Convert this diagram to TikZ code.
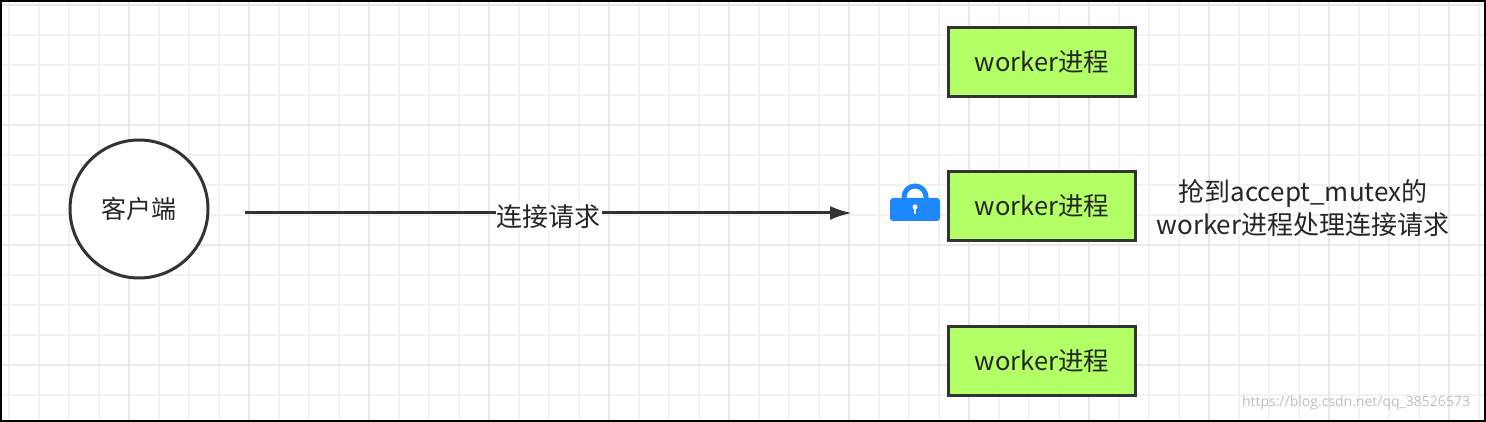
\documentclass[tikz,border=0pt]{standalone}
\usepackage{fontspec}
\usetikzlibrary{arrows.meta}
\setmainfont{Open Sans}
\newfontfamily\cjk{Noto Sans CJK SC}
\begin{document}
\begin{tikzpicture}[x=1pt,y=-1pt,
  wbox/.style={draw=black!80,line width=3pt,fill=wgreen,minimum width=187pt,minimum height=69pt,font=\fontsize{25.5}{28}\selectfont\cjk,text=black!85},
  lbl/.style={font=\fontsize{26}{30}\selectfont\cjk,text=black!85,align=center}]
\definecolor{wgreen}{HTML}{B3FF66}
\definecolor{lockblue}{HTML}{1E88FF}
\useasboundingbox (0,0) rectangle (1486,422);
\clip (0,0) rectangle (1486,422);
\fill[white] (0,0) rectangle (1486,422);
\foreach \i in {0,...,49} {\draw[line width=2pt,black!5] (9+30*\i,0) -- (9+30*\i,422);}
\foreach \j in {0,...,14} {\draw[line width=2pt,black!5] (0,5+30*\j) -- (1486,5+30*\j);}
\foreach \i in {0,...,11} {\draw[line width=2pt,black!9] (129+120*\i,0) -- (129+120*\i,422);}
\foreach \j in {0,...,3} {\draw[line width=2pt,black!9] (0,5+120*\j) -- (1486,5+120*\j);}
\draw[line width=2pt,black] (1,1) rectangle (1485,421);
\node[circle,draw=black!80,line width=3pt,fill=white,minimum size=138pt,font=\fontsize{25}{28}\selectfont\cjk,text=black!85] (c) at (139,209) {客户端};
\coordinate (s) at (245,213);
\coordinate (e) at (852,213);
\draw[line width=3pt,black!80,-{Latex[length=22pt,width=14pt]}] (s) -- (e) node[midway,fill=white,inner sep=1pt,lbl,yshift=-4pt] (t) {连接请求};
\node[wbox] (w1) at (1042,62) {worker进程};
\node[wbox] (w2) at (1042,206) {worker进程};
\node[wbox] (w3) at (1042,361) {worker进程};
% lock
\draw[lockblue,line width=5pt] (904,200) -- (904,197) arc[start angle=180,end angle=360,radius=11] -- (926,200);
\fill[lockblue,rounded corners=3pt] (890,198) rectangle (940,221);
\fill[white] (915,207) circle (2.5);
\fill[white] (914,207) rectangle (916,214);
\node[lbl,font=\fontsize{26}{33}\selectfont\cjk] (r) at (1303,208) {抢到accept\_mutex的\\worker进程处理连接请求};
\node[text=black!25,font=\fontsize{14}{16}\selectfont] (wm) at (1356,403) {https://blog.csdn.net/qq\_38526573};
\end{tikzpicture}
\end{document}
